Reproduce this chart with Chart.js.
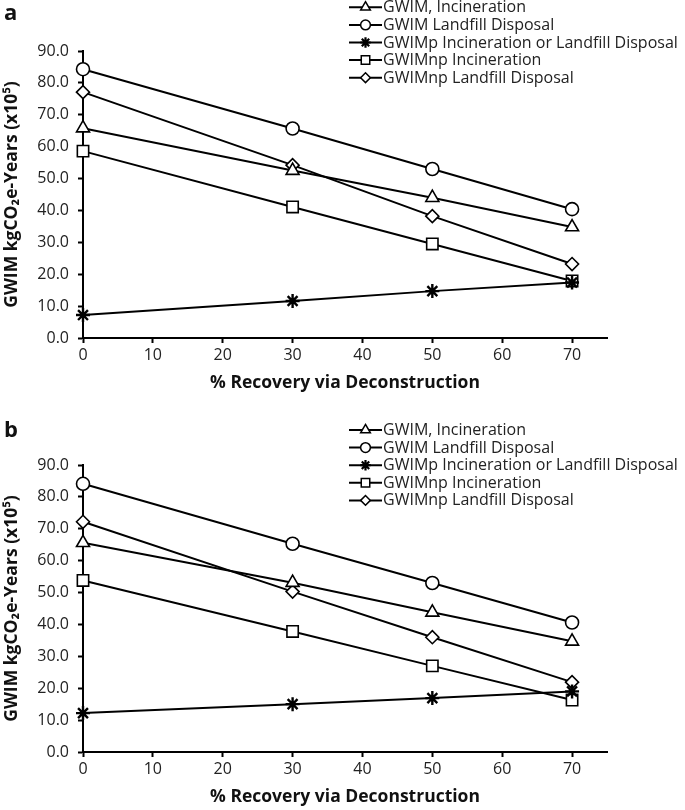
<!DOCTYPE html>
<html><head><meta charset="utf-8">
<script src="https://cdn.jsdelivr.net/npm/chart.js@4/dist/chart.umd.min.js"></script>
<style>
html,body{margin:0;padding:0;background:#fff;}
body{width:685px;height:810px;position:relative;overflow:hidden;font-family:"Open Sans",sans-serif;}
.panel{position:absolute;left:0;width:685px;height:396px;}
.lbl{position:absolute;left:4px;font:bold 22px "Open Sans",sans-serif;color:#111;line-height:1;}
</style></head><body>
<div class="panel" style="top:0"><canvas id="ca" width="685" height="396"></canvas></div>
<div class="panel" style="top:414px"><canvas id="cb" width="685" height="396"></canvas></div>
<div class="lbl" style="top:0px">a</div>
<div class="lbl" style="top:417px">b</div>
<script>
// ---- data ----
const recovery = [0, 30, 50, 70];
const seriesNames = [
  'GWIM, Incineration',
  'GWIM Landfill Disposal',
  'GWIMp Incineration or Landfill Disposal',
  'GWIMnp Incineration',
  'GWIMnp Landfill Disposal'
];
const yTickValues = [0, 10, 20, 30, 40, 50, 60, 70, 80, 90];
const xTickValues = [0, 10, 20, 30, 40, 50, 60, 70];

// panel a
const aGwimIncineration   = [65.8, 52.5, 44.0, 34.8];
const aGwimLandfill       = [84.3, 65.7, 53.0, 40.4];
const aGwimpBoth          = [7.2, 11.6, 14.7, 17.4];
const aGwimnpIncineration = [58.6, 41.1, 29.5, 17.9];
const aGwimnpLandfill     = [77.1, 54.2, 38.2, 23.2];

// panel b
const bGwimIncineration   = [65.6, 53.1, 43.8, 34.7];
const bGwimLandfill       = [84.1, 65.3, 53.0, 40.6];
const bGwimpBoth          = [12.2, 15.0, 16.9, 19.0];
const bGwimnpIncineration = [53.8, 37.8, 27.0, 16.3];
const bGwimnpLandfill     = [72.2, 50.3, 36.0, 21.9];

// ---- styles ----
const markerStyles = [
  {pointStyle: 'triangle', radius: 7.5, bw: 1.6},
  {pointStyle: 'circle', radius: 6.5, bw: 1.6},
  {pointStyle: 'star', radius: 7, bw: 2.4},
  {pointStyle: 'rect', radius: 8, bw: 1.6},
  {pointStyle: 'rectRot', radius: 6.5, bw: 1.6}
];

Chart.defaults.font.family = '"Open Sans", sans-serif';
Chart.defaults.color = '#222';

function makeDatasets(seriesArrays) {
  return seriesArrays.map((vals, i) => ({
    label: seriesNames[i],
    data: recovery.map((x, j) => ({x: x, y: vals[j]})),
    borderColor: '#000',
    borderWidth: 2,
    backgroundColor: '#fff',
    pointStyle: markerStyles[i].pointStyle,
    pointRadius: markerStyles[i].radius,
    pointBorderWidth: markerStyles[i].bw,
    pointBorderColor: '#000',
    pointBackgroundColor: '#fff',
    tension: 0,
    clip: false
  }));
}

const customLegend = {
  id: 'customLegend',
  afterDraw(chart, args, opts) {
    const ctx = chart.ctx;
    ctx.save();
    chart.data.datasets.forEach((ds, i) => {
      const y = opts.top + i * opts.gap;
      ctx.strokeStyle = '#000';
      ctx.lineWidth = 2;
      ctx.beginPath();
      ctx.moveTo(opts.x, y);
      ctx.lineTo(opts.x + 33, y);
      ctx.stroke();
      ctx.fillStyle = '#fff';
      ctx.strokeStyle = '#000';
      const bw = ds.pointStyle === 'star' ? 2.2 : 1.5;
      ctx.lineWidth = bw;
      Chart.helpers.drawPoint(ctx, {
        pointStyle: ds.pointStyle,
        radius: ds.pointRadius * 0.75,
        rotation: 0,
        borderWidth: bw
      }, opts.x + 16.5, y);
      ctx.fillStyle = '#222';
      ctx.font = '16px "Open Sans", sans-serif';
      ctx.textBaseline = 'middle';
      ctx.textAlign = 'left';
      ctx.fillText(ds.label, opts.x + 34, y + 0.5);
    });
    ctx.restore();
  }
};

function makeChart(canvasId, seriesArrays, legendTop) {
  return new Chart(document.getElementById(canvasId), {
    type: 'line',
    data: {datasets: makeDatasets(seriesArrays)},
    plugins: [customLegend],
    options: {
      responsive: false,
      devicePixelRatio: 1,
      animation: false,
      layout: {padding: {top: 51, right: 78, left: 0, bottom: 0}},
      plugins: {
        legend: {display: false},
        tooltip: {enabled: false},
        customLegend: {x: 349, top: legendTop, gap: 17.6}
      },
      scales: {
        x: {
          type: 'linear',
          min: 0, max: 75,
          afterBuildTicks(s) { s.ticks = xTickValues.map(v => ({value: v})); },
          ticks: {color: '#222', font: {size: 16}, padding: 3, maxRotation: 0},
          grid: {drawOnChartArea: false, drawTicks: true, tickLength: 5, tickColor: '#000', tickWidth: 2},
          border: {color: '#000', width: 2},
          title: {display: true, text: '% Recovery via Deconstruction', color: '#111',
                  font: {size: 17.5, weight: 'bold'}, padding: {top: 0, bottom: 2}},
          afterFit(s) { s.height = 58; }
        },
        y: {
          min: 0, max: 90,
          afterBuildTicks(s) { s.ticks = yTickValues.map(v => ({value: v})); },
          ticks: {color: '#222', font: {size: 16}, padding: 9, callback: v => v.toFixed(1)},
          grid: {drawOnChartArea: false, drawTicks: true, tickLength: 5, tickColor: '#000', tickWidth: 2},
          border: {color: '#000', width: 2},
          title: {display: true, text: 'GWIM kgCO\u2082e-Years (x10\u2075)', color: '#111',
                  font: {size: 17.5, weight: 'bold'}, padding: {top: 2, bottom: 0}},
          afterFit(s) { s.width = 83; }
        }
      }
    }
  });
}

makeChart('ca', [aGwimIncineration, aGwimLandfill, aGwimpBoth, aGwimnpIncineration, aGwimnpLandfill], 7.3);
makeChart('cb', [bGwimIncineration, bGwimLandfill, bGwimpBoth, bGwimnpIncineration, bGwimnpLandfill], 16);
</script>
</body></html>
